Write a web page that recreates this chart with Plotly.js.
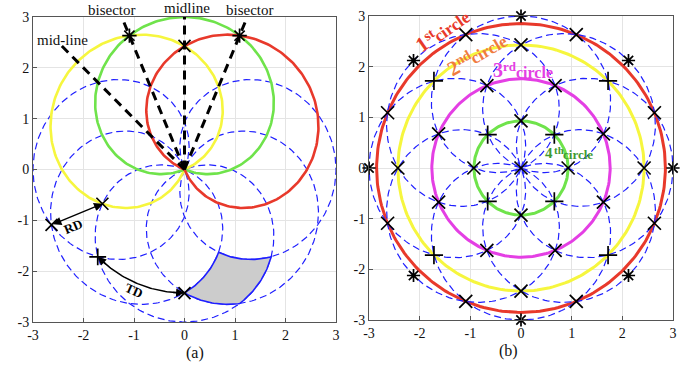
<!DOCTYPE html>
<html><head><meta charset="utf-8">
<script src="https://cdn.plot.ly/plotly-3.0.1.min.js"></script>
<style>html,body{margin:0;padding:0;background:#fff}#chart{width:699px;height:367px}</style>
</head><body><div id="chart"></div>
<script>
// ---------- values ----------
const tickValues = [-3, -2, -1, 0, 1, 2, 3];
const tickLabels = ['-3', '-2', '-1', '0', '1', '2', '3'];

// beam lobes (dashed / coloured): reach along the axis and width factor
const lobeReach = 3.0;
const lobeWidth = 0.8;
const lobeAnglesB = [0, 45, 90, 135, 180, 225, 270, 315];
const lobeAnglesADashed = [0, 180, 225, 270, 315];
const lobeAnglesASolid = [135, 90, 45];
const lobeColorsASolid = ['#f6f63e', '#6fe34b', '#e8392b'];

// rings of panel (b)
const ringRadii = [2.85, 2.43, 1.76, 0.93];
const ringColors = ['#e8392b', '#f6f63e', '#e43fe4', '#6fe34b'];
const ringLabelMain = ['1', '2', '3', '4'];
const ringLabelSup = ['st', 'nd', 'rd', 'th'];
const ringLabelSub = ['circle', 'circle', 'circle', 'circle'];
const ringLabelColors = ['#e8392b', '#f07b3f', '#e43fe4', '#3f9a32'];

// intersection marks of panel (b): [ring index, angles (deg), symbol]
const marksB = [
  [0, [22.5, 67.5, 112.5, 157.5, 202.5, 247.5, 292.5, 337.5], 'x-thin-open'],
  [1, [0, 90, 180, 270], 'x-thin-open'],
  [1, [45, 135, 225, 315], 'cross-thin-open'],
  [2, [22.5, 67.5, 112.5, 157.5, 202.5, 247.5, 292.5, 337.5], 'x-thin-open'],
  [3, [0, 90, 180, 270], 'x-thin-open'],
  [3, [45, 135, 225, 315], 'cross-thin-open']
];
const centreMarkB = 'x-thin-open';
const outerStarRadius = 3.0;
const outerStarAngles = [0, 45, 90, 135, 180, 225, 270, 315];

// panel (a) guide lines
const guideAngles = [135, 112.5, 90, 67.5];
const guideLengths = [3.45, 3.2, 3.0, 3.2];
const guideLabels = ['mid-line', 'bisector', 'midline', 'bisector'];

// panel (a) marks: [ring index, angle, symbol]
const marksA = [
  [0, 112.5, 'asterisk-open'], [0, 67.5, 'asterisk-open'], [1, 90, 'x-thin-open'],
  [0, 202.5, 'x-thin-open'], [2, 202.5, 'x-thin-open'],
  [1, 225, 'cross-thin-open'], [1, 270, 'x-thin-open']
];
const rdRing = [0, 2], rdAngle = 202.5;
const tdRing = 1, tdAngles = [225, 270];

// shaded cell: edges as [lobe angle, from, to] (deg along the lobe)
const cellEdges = [[225, 45, 67.5], [360, -67.5, -45], [270, 45, 22.5], [315, -22.5, -45]];

// ---------- helpers ----------
const rad = d => d * Math.PI / 180;
function lobe(phi, d0, d1, n) {
  const xs = [], ys = [];
  for (let i = 0; i <= n; i++) {
    const d = d0 + (d1 - d0) * i / n;
    const r = lobeReach * Math.cos(rad(lobeWidth * d));
    xs.push(r * Math.cos(rad(phi + d))); ys.push(r * Math.sin(rad(phi + d)));
  }
  return [xs, ys];
}
const lobeMax = 90 / lobeWidth;
function ring(r, a0, a1, n) {
  const xs = [], ys = [];
  for (let i = 0; i <= n; i++) {
    const a = a0 + (a1 - a0) * i / n;
    xs.push(r * Math.cos(rad(a))); ys.push(r * Math.sin(rad(a)));
  }
  return [xs, ys];
}
const pol = (r, a) => [r * Math.cos(rad(a)), r * Math.sin(rad(a))];

const traces = [];
const DASH = {color: '#1f1fff', width: 1.2, dash: '7px,4px'};
const MK = (symbol, size) => ({symbol, size, color: '#000', line: {color: '#000', width: 1.7}});

// ---------- panel (a) ----------
lobeAnglesADashed.forEach(p => {
  const [x, y] = lobe(p, -lobeMax, lobeMax, 240);
  traces.push({x, y, xaxis: 'x', yaxis: 'y', mode: 'lines', line: DASH, hoverinfo: 'skip'});
});
{
  let xs = [], ys = [];
  cellEdges.forEach(e => { const [x, y] = lobe(e[0], e[1], e[2], 40); xs = xs.concat(x); ys = ys.concat(y); });
  traces.push({x: xs, y: ys, xaxis: 'x', yaxis: 'y', mode: 'lines', fill: 'toself', fillcolor: '#cccccc',
    line: {color: '#1f1fff', width: 1.6}, hoverinfo: 'skip'});
}
lobeAnglesASolid.forEach((p, i) => {
  const [x, y] = lobe(p, -lobeMax, lobeMax, 240);
  traces.push({x, y, xaxis: 'x', yaxis: 'y', mode: 'lines', line: {color: lobeColorsASolid[i], width: 2.6}, hoverinfo: 'skip'});
});
guideAngles.forEach((a, i) => {
  const e = pol(guideLengths[i], a);
  traces.push({x: [0, e[0]], y: [0, e[1]], xaxis: 'x', yaxis: 'y', mode: 'lines',
    line: {color: '#000', width: 3, dash: '9px,6px'}, hoverinfo: 'skip'});
});
{
  const [x, y] = ring(ringRadii[tdRing], tdAngles[0] + 1, tdAngles[1] - 1, 60);
  traces.push({x, y, xaxis: 'x', yaxis: 'y', mode: 'lines', line: {color: '#000', width: 1.5}, hoverinfo: 'skip'});
}
marksA.forEach(m => {
  const p = pol(ringRadii[m[0]], m[1]);
  traces.push({x: [p[0]], y: [p[1]], xaxis: 'x', yaxis: 'y', mode: 'markers', cliponaxis: false,
    marker: MK(m[2], 12), hoverinfo: 'skip'});
});

// ---------- panel (b) ----------
ringRadii.forEach((r, i) => {
  const [x, y] = ring(r, 0, 360, 240);
  traces.push({x, y, xaxis: 'x2', yaxis: 'y2', mode: 'lines', line: {color: ringColors[i], width: 3}, hoverinfo: 'skip'});
});
lobeAnglesB.forEach(p => {
  const [x, y] = lobe(p, -lobeMax, lobeMax, 240);
  traces.push({x, y, xaxis: 'x2', yaxis: 'y2', mode: 'lines', line: DASH, hoverinfo: 'skip'});
});
marksB.forEach(m => {
  const xs = [], ys = [];
  m[1].forEach(a => { const p = pol(ringRadii[m[0]], a); xs.push(p[0]); ys.push(p[1]); });
  traces.push({x: xs, y: ys, xaxis: 'x2', yaxis: 'y2', mode: 'markers', cliponaxis: false,
    marker: MK(m[2], 13), hoverinfo: 'skip'});
});
traces.push({x: [0], y: [0], xaxis: 'x2', yaxis: 'y2', mode: 'markers', marker: MK(centreMarkB, 13), hoverinfo: 'skip'});
{
  const xs = [], ys = [];
  outerStarAngles.forEach(a => { const p = pol(outerStarRadius, a); xs.push(p[0]); ys.push(p[1]); });
  traces.push({x: xs, y: ys, xaxis: 'x2', yaxis: 'y2', mode: 'markers', cliponaxis: false,
    marker: MK('asterisk-open', 11), hoverinfo: 'skip'});
}

// ---------- layout ----------
const W = 699, H = 367;
const domXA = [33 / W, 336 / W], domYA = [(H - 322) / H, (H - 17) / H];
const domXB = [369 / W, 673 / W], domYB = [(H - 320) / H, (H - 16) / H];
const toPaper = (dom, v) => dom[0] + (dom[1] - dom[0]) * (v + 3) / 6;

const SERIF = 'Liberation Serif, Times New Roman, serif';
function axis(dom, anchor) {
  return {domain: dom, anchor, range: [-3, 3], tickvals: tickValues, ticktext: tickLabels,
    showgrid: true, gridcolor: '#e4e4e4', gridwidth: 1, zeroline: false,
    showline: true, linecolor: '#555', linewidth: 1, mirror: true,
    ticks: 'inside', ticklen: 4, tickcolor: '#555',
    tickfont: {family: SERIF, size: 14, color: '#111'}, fixedrange: true};
}

const ann = [];
const guideLabelPos = [[-2.42, 2.55], [-1.44, 3.13], [0.04, 3.18], [1.28, 3.14]];
guideLabels.forEach((t, i) => {
  ann.push({xref: 'paper', yref: 'paper', x: toPaper(domXA, guideLabelPos[i][0]), y: toPaper(domYA, guideLabelPos[i][1]),
    text: t, showarrow: false, font: {family: SERIF, size: 15, color: '#111'}, xanchor: 'center', yanchor: 'middle'});
});
{
  const p0 = pol(ringRadii[rdRing[0]], rdAngle), p1 = pol(ringRadii[rdRing[1]], rdAngle);
  ann.push({xref: 'x', yref: 'y', axref: 'x', ayref: 'y', x: p1[0], y: p1[1], ax: p0[0], ay: p0[1], text: '',
    showarrow: true, arrowhead: 2, arrowside: 'end+start', arrowsize: 1.2, arrowwidth: 1.4, arrowcolor: '#000'});
  ann.push({xref: 'x', yref: 'y', x: -2.2, y: -1.13, text: '<b>RD</b>', showarrow: false, textangle: -23,
    font: {family: SERIF, size: 13, color: '#000'}});
}
{
  const r = ringRadii[tdRing];
  const e0 = pol(r, tdAngles[0]), t0 = pol(r, tdAngles[0] + 6);
  const e1 = pol(r, tdAngles[1]), t1 = pol(r, tdAngles[1] - 6);
  [[e0, t0], [e1, t1]].forEach(([e, t]) => ann.push({xref: 'x', yref: 'y', axref: 'x', ayref: 'y',
    x: e[0], y: e[1], ax: t[0], ay: t[1], text: '', showarrow: true, arrowhead: 2, arrowsize: 1.2,
    arrowwidth: 1.4, arrowcolor: '#000'}));
  ann.push({xref: 'x', yref: 'y', x: -1.0, y: -2.38, text: '<b>TD</b>', showarrow: false, textangle: 24,
    font: {family: SERIF, size: 13, color: '#000'}});
}

// ring labels of panel (b): main digit, raised suffix, "circle"
const ringLabelPos = [[-1.94, 2.44], [-1.33, 1.98], [-0.45, 1.93], [0.56, 0.30]];
const ringLabelAngle = [-35, -30, 0, 0];
const ringLabelSize = [21, 21, 20, 15];     // main digit
const ringLabelSupSize = [14, 14, 13, 11];
const ringLabelSubSize = [17, 17, 16, 13];
const EM = {s: 0.389, t: 0.333, n: 0.556, d: 0.556, r: 0.444, h: 0.556};
ringLabelMain.forEach((m, i) => {
  const F = ringLabelSize[i], s1 = ringLabelSupSize[i], s2 = ringLabelSubSize[i];
  const wSup = ringLabelSup[i].split('').reduce((a, c) => a + EM[c], 0) * s1;
  const wSub = 2.2 * s2;
  const al = rad(ringLabelAngle[i]);
  const pieces = [
    [m, F, 0, 0],
    [ringLabelSup[i], s1, 0.25 * F + 0.5 * wSup + 0.5, 0.3 * F + 0.33 * s1 - 0.33 * F],
    [ringLabelSub[i], s2, 0.25 * F + wSup + 0.5 * wSub + 0.5, -0.04 * F + 0.33 * s2 - 0.33 * F]
  ];
  pieces.forEach(([txt, fs, L, U]) => {
    ann.push({xref: 'x2', yref: 'y2', x: ringLabelPos[i][0], y: ringLabelPos[i][1],
      xshift: L * Math.cos(al) + U * Math.sin(al), yshift: -L * Math.sin(al) + U * Math.cos(al),
      text: '<b>' + txt + '</b>', showarrow: false, textangle: ringLabelAngle[i],
      xanchor: 'center', yanchor: 'middle', borderpad: 0,
      font: {family: SERIF, size: fs, color: ringLabelColors[i]}});
  });
});
ann.push({xref: 'paper', yref: 'paper', x: 184 / W, y: 0, yanchor: 'bottom', yshift: 3, text: '(a)', showarrow: false,
  font: {family: SERIF, size: 16, color: '#111'}});
ann.push({xref: 'paper', yref: 'paper', x: 520 / W, y: 0, yanchor: 'bottom', yshift: 5, text: '(b)', showarrow: false,
  font: {family: SERIF, size: 16, color: '#111'}});

const layout = {
  width: W, height: H, margin: {l: 0, r: 0, t: 0, b: 0}, paper_bgcolor: '#fff', plot_bgcolor: '#fff',
  showlegend: false,
  xaxis: axis(domXA, 'y'), yaxis: axis(domYA, 'x'),
  xaxis2: axis(domXB, 'y2'), yaxis2: axis(domYB, 'x2'),
  annotations: ann
};
Plotly.newPlot('chart', traces, layout, {staticPlot: true, displayModeBar: false});
</script></body></html>
